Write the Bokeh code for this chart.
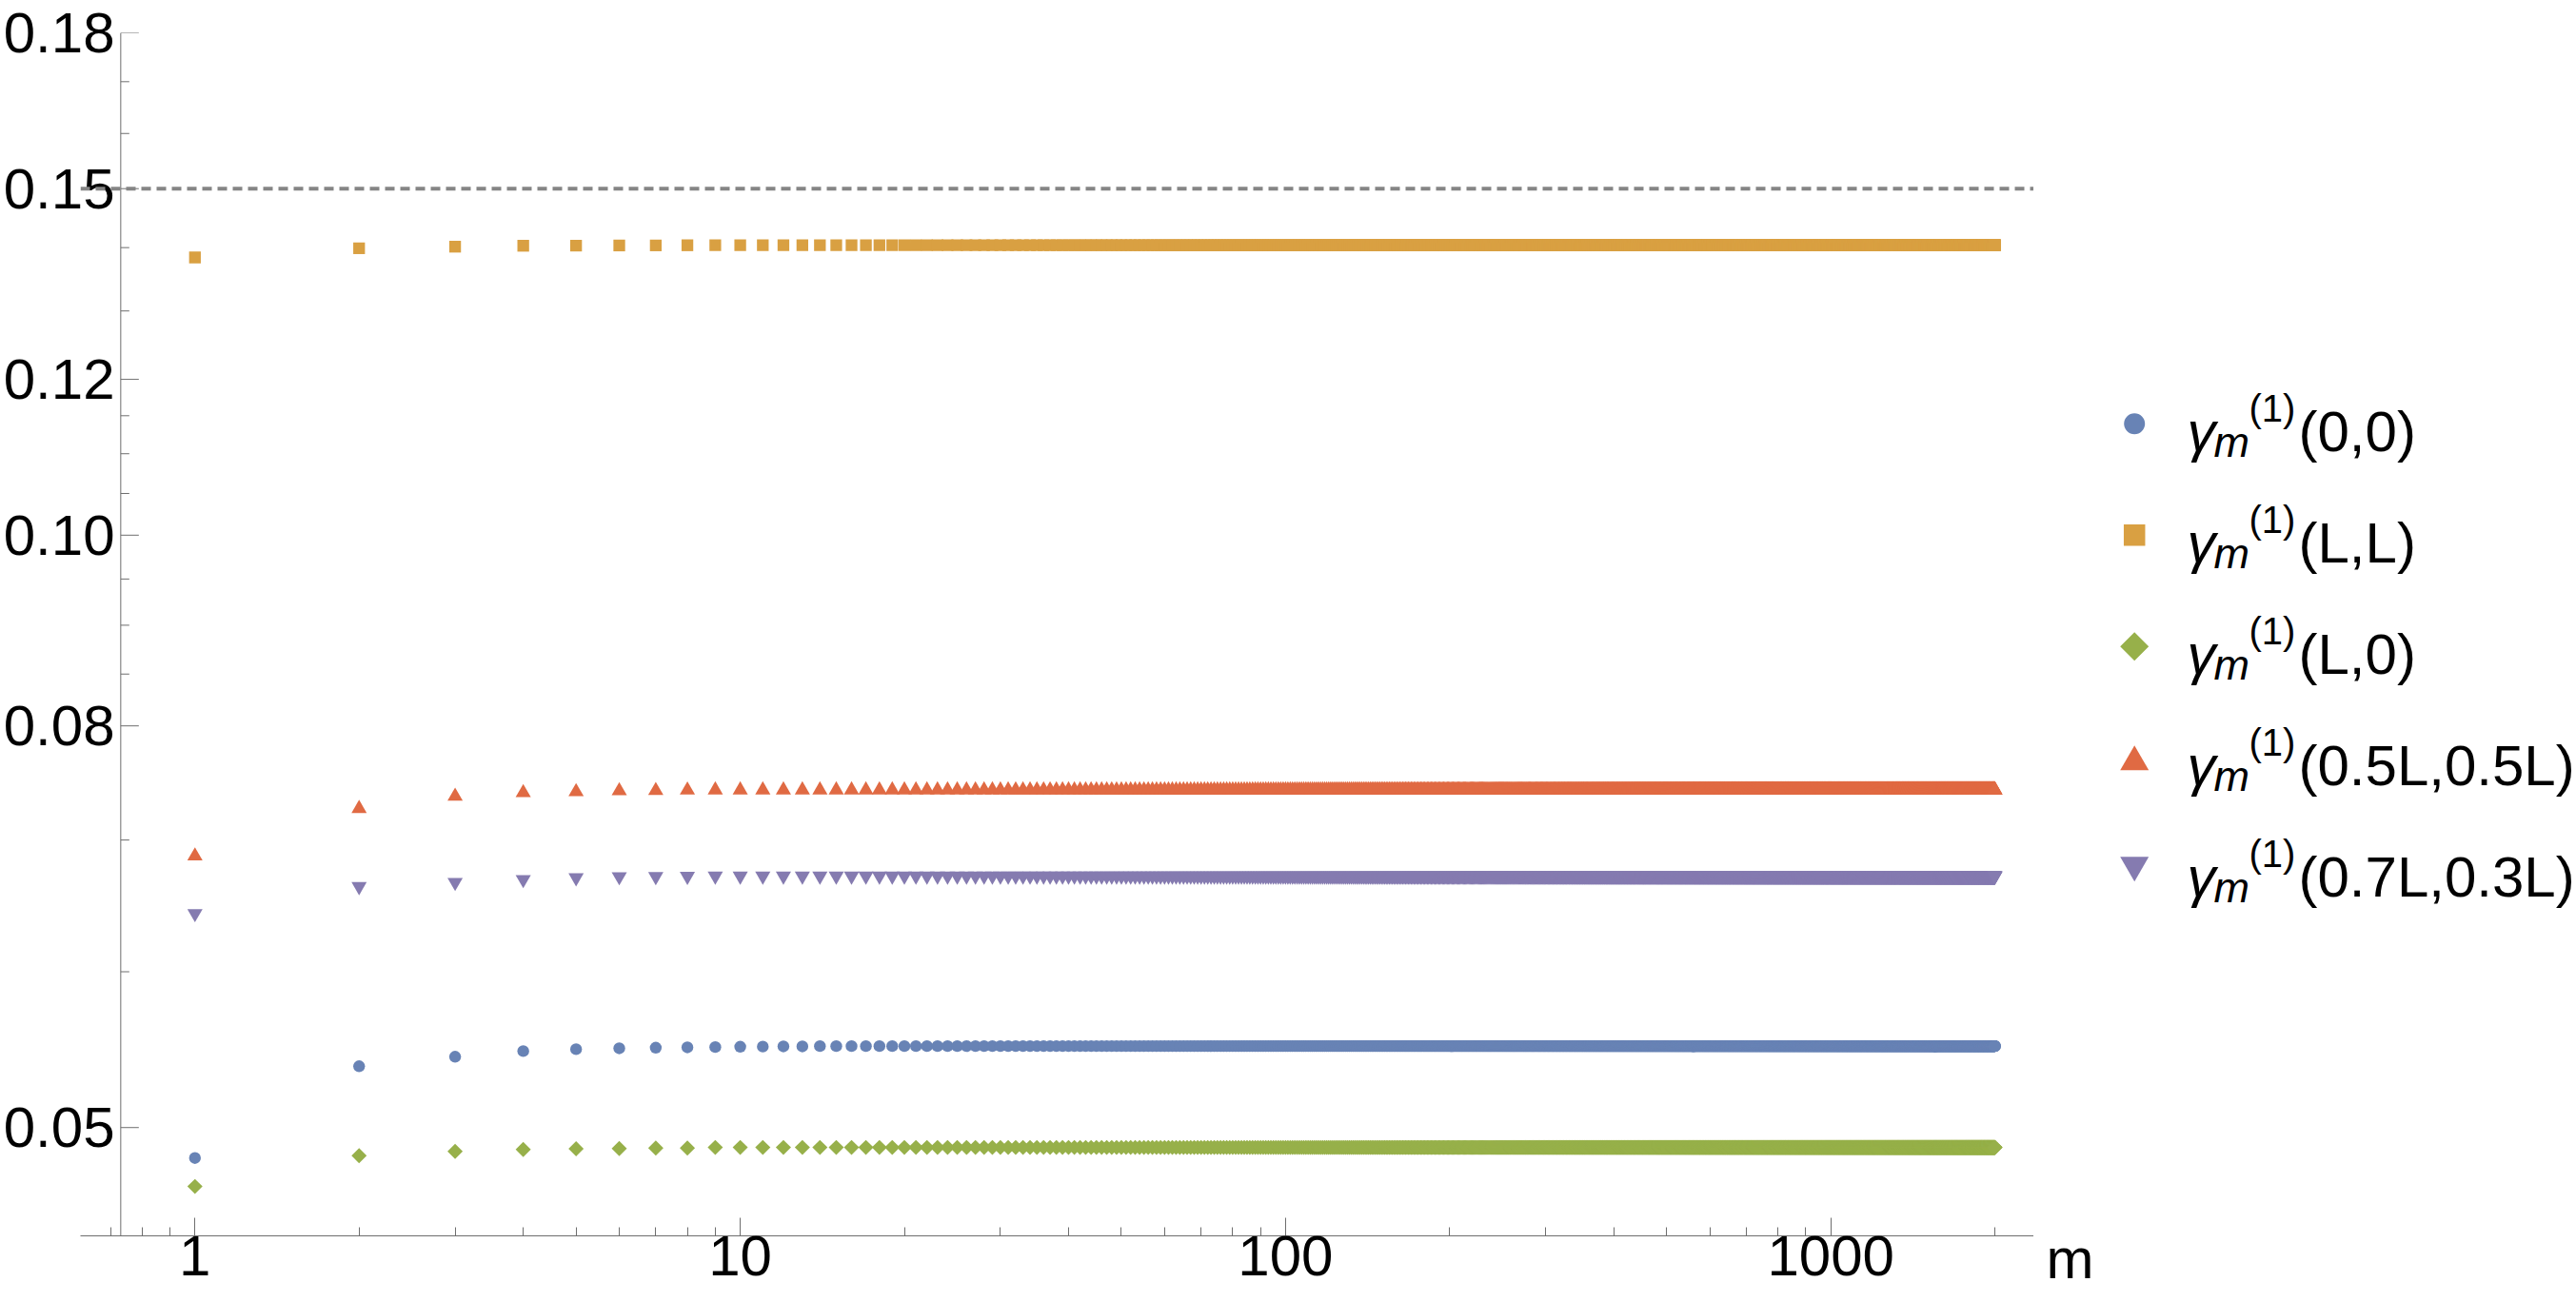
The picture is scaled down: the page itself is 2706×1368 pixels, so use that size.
import numpy as np
from bokeh.plotting import figure
from bokeh.models import (LogAxis, FixedTicker, NumeralTickFormatter, Span, Range1d,
                          ColumnDataSource)
from bokeh.layouts import row
from bokeh.core.properties import value
from bokeh.embed import file_html
from bokeh.resources import INLINE

# ---------------- data ----------------
m_max = 2000
m_values = list(range(1, m_max + 1))

# first points read one by one; after that the series are flat at the plateau value
blue_head = [0.04825, 0.05372, 0.05432, 0.05468, 0.05480, 0.05486, 0.05490,
             0.05492, 0.05494, 0.05496, 0.05497, 0.05498, 0.05498]
blue_plateau = 0.05500
orange_head = [0.1384, 0.1399, 0.14015, 0.1403, 0.14033, 0.14035, 0.14037, 0.14038]
orange_plateau = 0.1404
green_head = [0.04667, 0.04838, 0.04863, 0.04874, 0.04878, 0.04879, 0.04881, 0.04882]
green_plateau = 0.04885
red_head = [0.06870, 0.07262, 0.07367, 0.07398, 0.07406, 0.07414, 0.07417, 0.07421]
red_plateau = 0.07422
purple_head = [0.06423, 0.06629, 0.06662, 0.06684, 0.06698, 0.06706, 0.06707, 0.06709]
purple_plateau = 0.06711

series_labels = ["(0,0)", "(L,L)", "(L,0)", "(0.5L,0.5L)", "(0.7L,0.3L)"]

x_major = [1, 10, 100, 1000]
x_minor = [0.7, 0.8, 0.9, 2, 3, 4, 5, 6, 7, 8, 9, 20, 30, 40, 50, 60, 70, 80, 90,
           200, 300, 400, 500, 600, 700, 800, 900, 2000]
y_major = [0.05, 0.08, 0.10, 0.12, 0.15, 0.18]
y_minor = [0.06, 0.07, 0.085, 0.09, 0.095, 0.105, 0.11, 0.115, 0.13, 0.14, 0.16, 0.17]

x_lo, x_hi = 0.6166, 2357.0
y_lo, y_hi = 0.04405, 0.18
y_axis_at = 0.731            # the vertical axis crosses the horizontal one at m = 0.731
ref_level = 0.15             # dashed reference line


def full(head, plateau):
    return head + [plateau] * (m_max - len(head))


blue = full(blue_head, blue_plateau)
orange = full(orange_head, orange_plateau)
green = full(green_head, green_plateau)
red = full(red_head, red_plateau)
purple = full(purple_head, purple_plateau)

# ---------------- styles ----------------
colors = ["#6883b5", "#d9a042", "#97b04a", "#e06a43", "#857bb0"]
FONT = "Liberation Sans"
AX = "#6e6e6e"
PAGE_H = 1368

p = figure(title=None, x_range=Range1d(x_lo, x_hi), y_range=Range1d(y_lo, y_hi),
           x_axis_type="log", y_axis_type="log",
           x_axis_location=None, y_axis_location=None,
           frame_width=2052, frame_height=1264,
           min_border_left=83, min_border_right=0, min_border_top=34, min_border_bottom=70,
           toolbar_location=None, output_backend="svg",
           outline_line_color=None, background_fill_color="white", border_fill_color="white")
p.grid.visible = False


def style_axis(ax):
    ax.axis_line_color = AX
    ax.axis_line_width = 1
    ax.major_tick_line_color = AX
    ax.minor_tick_line_color = AX
    ax.major_tick_in = 19
    ax.major_tick_out = 0
    ax.minor_tick_in = 9
    ax.minor_tick_out = 0
    ax.major_label_text_font = FONT
    ax.major_label_text_font_size = "60px"
    ax.major_label_text_color = "black"


# vertical axis: labels from a left LogAxis (pulled right to sit beside the crossing line),
# the axis line itself and its ticks drawn at m = y_axis_at
yaxis = LogAxis(ticker=FixedTicker(ticks=y_major, minor_ticks=y_minor),
                formatter=NumeralTickFormatter(format="0.00"))
style_axis(yaxis)
yaxis.axis_line_color = None
yaxis.major_tick_line_color = None
yaxis.minor_tick_line_color = None
yaxis.major_label_standoff = -36
p.add_layout(yaxis, "left")

xaxis = LogAxis(ticker=FixedTicker(ticks=x_major, minor_ticks=x_minor),
                formatter=NumeralTickFormatter(format="0"))
style_axis(xaxis)
xaxis.major_label_standoff = 0
p.add_layout(xaxis, "below")

p.add_layout(Span(location=y_axis_at, dimension="height", line_color=AX, line_width=1))
p.ray(x=[y_axis_at] * len(y_major), y=y_major, length=19, length_units="screen", angle=0,
      line_color=AX, line_width=1)
p.ray(x=[y_axis_at] * len(y_minor), y=y_minor, length=9, length_units="screen", angle=0,
      line_color=AX, line_width=1)

p.add_layout(Span(location=ref_level, dimension="width", line_color="#858585",
                  line_width=4, line_dash="10 6"))

p.scatter(m_values, blue, marker="circle", size=12.4, fill_color=colors[0], line_color=None)
p.scatter(m_values, orange, marker="square", size=12.3, fill_color=colors[1], line_color=None)
p.scatter(m_values, green, marker="square", angle=np.pi / 4, size=11.3,
          fill_color=colors[2], line_color=None)
p.scatter(m_values, red, marker="triangle", size=16, fill_color=colors[3], line_color=None)
p.scatter(m_values, purple, marker="inverted_triangle", size=16, fill_color=colors[4],
          line_color=None)

# ---------------- legend panel (its y counts up from the page bottom) ----------------
LW = 571
TOP = 30
LH = PAGE_H - TOP
leg = figure(title=None, x_range=Range1d(0, LW), y_range=Range1d(0, LH),
             frame_width=LW, frame_height=LH,
             min_border_top=TOP, min_border_left=0, min_border_right=0, min_border_bottom=0,
             x_axis_location=None, y_axis_location=None,
             toolbar_location=None, output_backend="svg",
             outline_line_color=None, background_fill_color="white", border_fill_color="white")
leg.grid.visible = False

# axis label "m" at the right end of the horizontal axis (baseline at page y 1318)
leg.text(x=[13], y=[PAGE_H - 1318], text=["m"], text_font=value(FONT), text_font_size="60px",
         text_color="black", text_baseline="alphabetic", text_align="left")

n = len(series_labels)
centers = [PAGE_H - (440.7 + 117 * i) for i in range(n)]
mk_x = 105.7
marker_specs = [("circle", 22, 0.0, 0.0), ("square", 22.5, 0.0, 0.0),
                ("square", 21.2, np.pi / 4, 0.0),
                ("triangle", 30, 0.0, -4.3), ("inverted_triangle", 30, 0.0, 4.3)]
for i, (mk, sz, ang, dy) in enumerate(marker_specs):
    leg.scatter([mk_x], [centers[i] + dy], marker=mk, size=sz, angle=ang,
                fill_color=colors[i], line_color=None)

src = ColumnDataSource(dict(
    base_y=[c - 8.6 for c in centers],
    sub_y=[c - 19.3 for c in centers],
    sup_y=[c + 16.4 for c in centers],
    g=["γ"] * n, sub=["m"] * n, sup=["(1)"] * n, arg=series_labels))

leg.text(x=161, y="base_y", text="g", source=src, text_font=value(FONT),
         text_font_style="italic", text_font_size="60px", text_color="black",
         text_baseline="alphabetic", text_align="left")
leg.text(x=189, y="sub_y", text="sub", source=src, text_font=value(FONT),
         text_font_style="italic", text_font_size="45px", text_color="black",
         text_baseline="alphabetic", text_align="left")
leg.text(x=226, y="sup_y", text="sup", source=src, text_font=value(FONT),
         text_font_size="40px", text_color="black",
         text_baseline="alphabetic", text_align="left")
leg.text(x=278, y="base_y", text="arg", source=src, text_font=value(FONT),
         text_font_size="60px", text_color="black",
         text_baseline="alphabetic", text_align="left")

layout = row(p, leg)
open("out.html", "w").write(file_html(layout, INLINE))
